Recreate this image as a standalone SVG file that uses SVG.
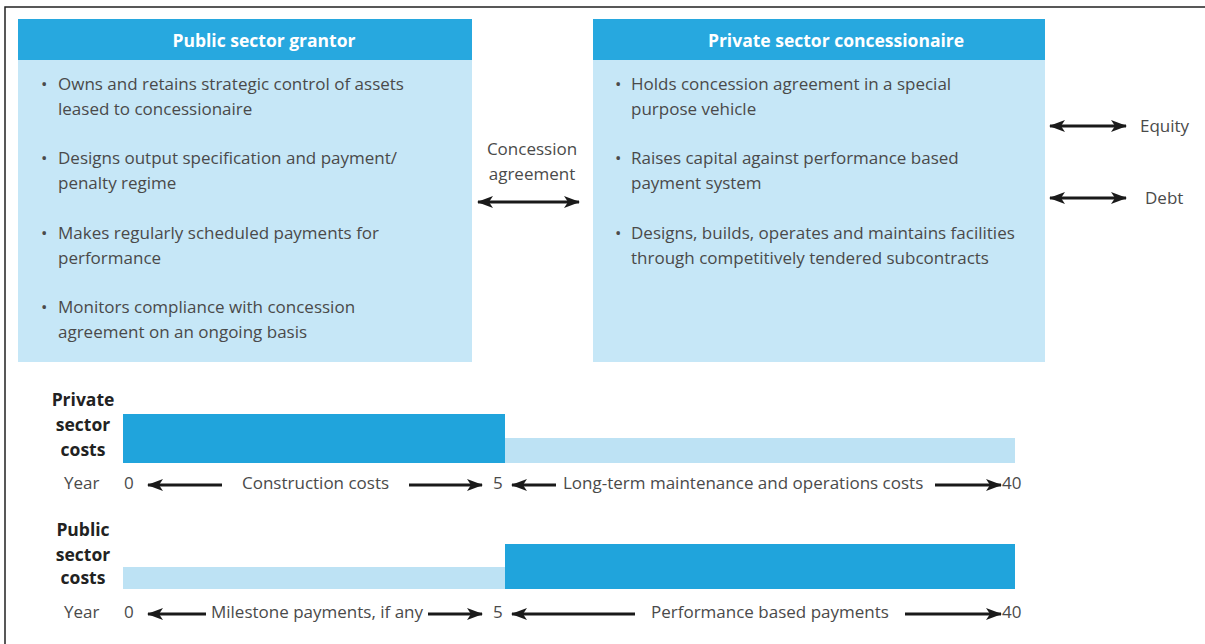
<svg xmlns="http://www.w3.org/2000/svg" width="1205" height="644" viewBox="0 0 1205 644">
  <defs>
    <marker id="ah" viewBox="0 0 16 12" refX="15" refY="6" markerWidth="16" markerHeight="12" markerUnits="userSpaceOnUse" orient="auto-start-reverse">
      <path d="M0,0 L16,6 L0,12 L4,6 Z" fill="#1a1a1a"/>
    </marker>
    <style>
      .hdr { fill: #27a8df; }
      .body { fill: #c6e7f7; }
      .dark { fill: #20a4dc; }
      .light { fill: #bde2f4; }
      .title { font-family: "Open Sans", "Liberation Sans", sans-serif; font-size: 17.5px; font-weight: bold; fill: #ffffff; text-anchor: middle; }
      .txt { font-family: "Open Sans", "Liberation Sans", sans-serif; font-size: 17px; fill: #4a4a4a; }
      .lbl { font-family: "Open Sans", "Liberation Sans", sans-serif; font-size: 17.5px; font-weight: bold; fill: #222222; text-anchor: middle; }
      .mid { text-anchor: middle; }
      .arr { stroke: #1a1a1a; stroke-width: 3; fill: none; }
    </style>
  </defs>

  <!-- frame -->
  <path d="M5,644 V7 H1205" fill="none" stroke="#222" stroke-width="1.5"/>

  <!-- public sector grantor -->
  <g id="grantor">
    <rect class="body" x="18" y="19" width="454" height="343"/>
    <rect class="hdr" x="18" y="19" width="454" height="41"/>
    <text class="title" x="264" y="47">Public sector grantor</text>
    <text class="txt" x="41" y="90">•</text>
    <text class="txt" x="58" y="90">Owns and retains strategic control of assets</text>
    <text class="txt" x="58" y="115">leased to concessionaire</text>
    <text class="txt" x="41" y="164">•</text>
    <text class="txt" x="58" y="164">Designs output specification and payment/</text>
    <text class="txt" x="58" y="189">penalty regime</text>
    <text class="txt" x="41" y="239">•</text>
    <text class="txt" x="58" y="239">Makes regularly scheduled payments for</text>
    <text class="txt" x="58" y="264">performance</text>
    <text class="txt" x="41" y="313">•</text>
    <text class="txt" x="58" y="313">Monitors compliance with concession</text>
    <text class="txt" x="58" y="338">agreement on an ongoing basis</text>
  </g>

  <!-- private sector concessionaire -->
  <g id="concessionaire">
    <rect class="body" x="593" y="19" width="452" height="343"/>
    <rect class="hdr" x="593" y="19" width="452" height="41"/>
    <text class="title" x="836" y="47">Private sector concessionaire</text>
    <text class="txt" x="615" y="90">•</text>
    <text class="txt" x="631" y="90">Holds concession agreement in a special</text>
    <text class="txt" x="631" y="115">purpose vehicle</text>
    <text class="txt" x="615" y="164">•</text>
    <text class="txt" x="631" y="164">Raises capital against performance based</text>
    <text class="txt" x="631" y="189">payment system</text>
    <text class="txt" x="615" y="239">•</text>
    <text class="txt" x="631" y="239">Designs, builds, operates and maintains facilities</text>
    <text class="txt" x="631" y="264">through competitively tendered subcontracts</text>
  </g>

  <g id="concession-label">
    <text class="txt mid" x="532" y="155">Concession</text>
    <text class="txt mid" x="532" y="180">agreement</text>
  </g>
  <g id="equity-label"><text class="txt" x="1140" y="132">Equity</text></g>
  <g id="debt-label"><text class="txt" x="1145" y="204">Debt</text></g>

  <!-- cost profile: private sector -->
  <g id="private-costs">
    <text class="lbl" x="83" y="406">Private</text>
    <text class="lbl" x="83" y="431">sector</text>
    <text class="lbl" x="83" y="456">costs</text>
    <rect class="dark" x="123" y="414" width="382" height="49"/>
    <rect class="light" x="505" y="438" width="510" height="25"/>
    <text class="txt" x="64" y="489">Year</text>
    <text class="txt" x="124" y="489">0</text>
    <text class="txt" x="242" y="489">Construction costs</text>
    <text class="txt" x="493" y="489">5</text>
    <text class="txt" x="563" y="489">Long-term maintenance and operations costs</text>
    <text class="txt" x="1002" y="489">40</text>
  </g>

  <!-- cost profile: public sector -->
  <g id="public-costs">
    <text class="lbl" x="83" y="536">Public</text>
    <text class="lbl" x="83" y="561">sector</text>
    <text class="lbl" x="83" y="584">costs</text>
    <rect class="light" x="123" y="567" width="382" height="22"/>
    <rect class="dark" x="505" y="544" width="510" height="45"/>
    <text class="txt" x="64" y="618">Year</text>
    <text class="txt" x="124" y="618">0</text>
    <text class="txt" x="211" y="618">Milestone payments, if any</text>
    <text class="txt" x="493" y="618">5</text>
    <text class="txt" x="651" y="618">Performance based payments</text>
    <text class="txt" x="1002" y="618">40</text>
  </g>

  <!-- connectors -->
  <g id="connectors">
    <line class="arr" x1="478" y1="202" x2="579" y2="202" marker-start="url(#ah)" marker-end="url(#ah)"/>
    <line class="arr" x1="1050" y1="126" x2="1126" y2="126" marker-start="url(#ah)" marker-end="url(#ah)"/>
    <line class="arr" x1="1050" y1="198" x2="1126" y2="198" marker-start="url(#ah)" marker-end="url(#ah)"/>
    <line class="arr" x1="148" y1="485" x2="222" y2="485" marker-start="url(#ah)"/>
    <line class="arr" x1="409" y1="485" x2="482" y2="485" marker-end="url(#ah)"/>
    <line class="arr" x1="512" y1="485" x2="556" y2="485" marker-start="url(#ah)"/>
    <line class="arr" x1="935" y1="485" x2="1001" y2="485" marker-end="url(#ah)"/>
    <line class="arr" x1="148" y1="614" x2="206" y2="614" marker-start="url(#ah)"/>
    <line class="arr" x1="428" y1="614" x2="482" y2="614" marker-end="url(#ah)"/>
    <line class="arr" x1="512" y1="614" x2="635" y2="614" marker-start="url(#ah)"/>
    <line class="arr" x1="905" y1="614" x2="1001" y2="614" marker-end="url(#ah)"/>
  </g>
</svg>
